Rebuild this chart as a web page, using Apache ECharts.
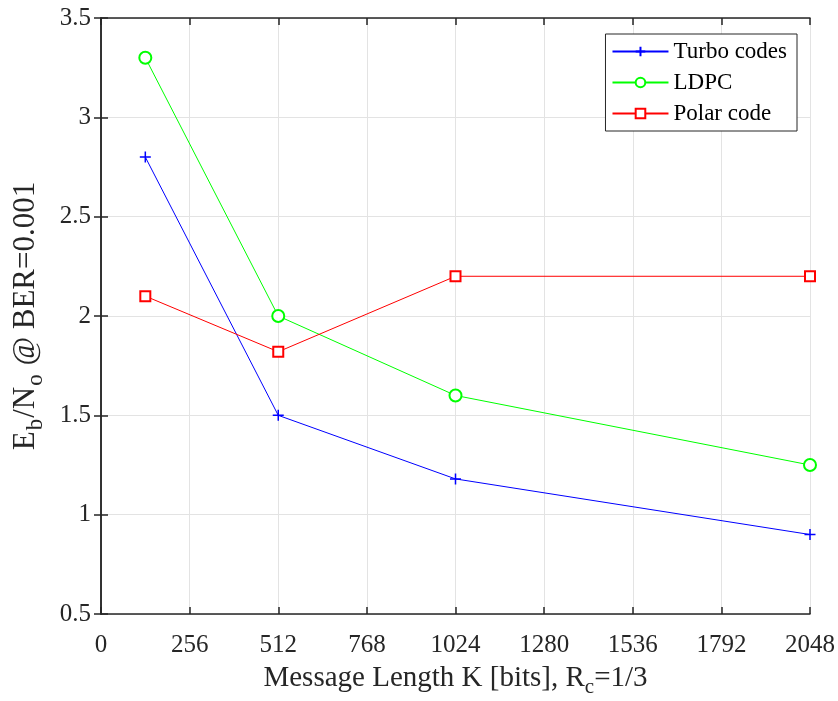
<!DOCTYPE html>
<html>
<head>
<meta charset="utf-8">
<script src="https://cdn.jsdelivr.net/npm/echarts@6/dist/echarts.min.js"></script>
<style>
html, body { margin: 0; padding: 0; background: #fff; }
#chart { width: 838px; height: 701px; }
</style>
</head>
<body>
<div id="chart"></div>
<script>
// message lengths K (bits)
var msgLength = [128, 512, 1024, 2048];
var turbo = [2.8, 1.5, 1.18, 0.9];
var ldpc = [3.3, 2.0, 1.6, 1.25];
var polar = [2.1, 1.82, 2.2, 2.2];

function pairs(ys) {
  return msgLength.map(function (x, i) { return [x, ys[i]]; });
}

var font = '"Liberation Serif", "Times New Roman", serif';
var plus = 'path://M0,5L10,5M5,0L5,10';

var chart = echarts.init(document.getElementById('chart'));
var gridLine = { show: true, lineStyle: { color: '#e3e3e3', width: 1 } };
var axisLine = { show: true, lineStyle: { color: '#262626', width: 1.5 } };
var tick = { show: true, inside: true, length: 7, lineStyle: { color: '#262626', width: 1.5 } };
var subX = { fontFamily: font, fontSize: 21, color: '#262626', padding: [18, 0, 0, 0] };
var subY = { fontFamily: font, fontSize: 23, color: '#262626', padding: [19, 1, 0, 1] };

var option = {
  animation: false,
  backgroundColor: '#fff',
  grid: { left: 101, right: 28, top: 18, bottom: 87, outerBoundsMode: 'none', containLabel: false },
  legend: {
    orient: 'vertical',
    right: 41, top: 34,
    backgroundColor: '#fff',
    borderColor: '#262626', borderWidth: 1, borderRadius: 0,
    padding: [6, 10, 6, 6],
    itemWidth: 56, itemHeight: 12, itemGap: 8,
    textStyle: { fontFamily: font, fontSize: 23, color: '#000' },
    data: ['Turbo codes', 'LDPC', 'Polar code']
  },
  xAxis: [{
    type: 'value', min: 0, max: 2048, interval: 256,
    name: 'Message Length K [bits], R{sub|c}=1/3',
    nameLocation: 'middle', nameGap: 45,
    nameTextStyle: { fontFamily: font, fontSize: 29, color: '#262626', rich: { sub: subX } },
    axisLine: axisLine, axisTick: tick, splitLine: gridLine,
    axisLabel: {
      fontFamily: font, fontSize: 25, color: '#262626', margin: 19,
      formatter: function (v) { return String(v); }
    }
  }, {
    type: 'value', min: 0, max: 2048, interval: 256, position: 'top',
    axisLine: axisLine, axisTick: tick, axisLabel: { show: false }, splitLine: { show: false }
  }],
  yAxis: [{
    type: 'value', min: 0.5, max: 3.5, interval: 0.5,
    name: 'E{sub|b}/N{sub|o} @ BER=0.001',
    nameLocation: 'middle', nameGap: 54, nameRotate: 90,
    nameTextStyle: { fontFamily: font, fontSize: 31, color: '#262626', rich: { sub: subY } },
    axisLine: axisLine, axisTick: tick, splitLine: gridLine,
    axisLabel: { fontFamily: font, fontSize: 25, color: '#262626', margin: 10 }
  }, {
    type: 'value', min: 0.5, max: 3.5, interval: 0.5, position: 'right',
    axisLine: axisLine, axisTick: tick, axisLabel: { show: false }, splitLine: { show: false }
  }],
  series: [{
    name: 'Turbo codes', type: 'line', data: pairs(turbo),
    symbol: plus, symbolSize: 11,
    lineStyle: { color: '#0000ff', width: 1 },
    itemStyle: { color: '#0000ff', borderColor: '#0000ff', borderWidth: 1.5 }
  }, {
    name: 'LDPC', type: 'line', data: pairs(ldpc),
    symbol: 'emptyCircle', symbolSize: 12,
    lineStyle: { color: '#00ff00', width: 1 },
    itemStyle: { color: '#00ff00', borderColor: '#00ff00', borderWidth: 1.2 }
  }, {
    name: 'Polar code', type: 'line', data: pairs(polar),
    symbol: 'emptyRect', symbolSize: 10,
    lineStyle: { color: '#ff0000', width: 1 },
    itemStyle: { color: '#ff0000', borderColor: '#ff0000', borderWidth: 1.2 }
  }]
};
chart.setOption(option);
</script>
</body>
</html>
